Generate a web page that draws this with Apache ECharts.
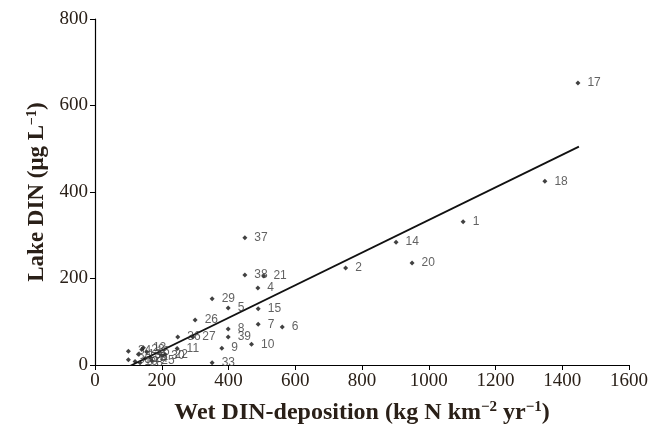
<!DOCTYPE html>
<html><head><meta charset="utf-8">
<script src="https://cdn.jsdelivr.net/npm/echarts@6/dist/echarts.min.js"></script>
<style>html,body{margin:0;padding:0;background:#fff}#c{width:653px;height:436px}</style>
</head><body><div id="c"></div>
<script>
// Site labels, wet DIN deposition (x) and lake DIN (y)
var siteLabels = ['1','2','3','4','5','6','7','8','9','10','11','12','13','14','15','16','17','18','19','20','21','22','23','24','25','26','27','28','29','30','33','34','35','36','37','38','39'];
var depositionX = [1103,751,165,488,399,561,489,399,380,469,246,145,130,902,489,155,1447,1348,120,950,506,210,140,150,170,300,293,135,351,200,351,100,100,248,449,449,399];
var lakeDinY    = [331,224,18,178,132,88,94,83,39,48,38,40,25,284,130,30,652,425,8,236,206,24,36,15,10,104,65,5,153,22,5,32,12,65,294,208,65];
// regression line endpoints
var fitX = [100, 1450];
var fitY = [-4, 505];
var xTicks = [0,200,400,600,800,1000,1200,1400,1600];
var yTicks = [0,200,400,600,800];

var pts = depositionX.map(function(x,i){return {value:[x,lakeDinY[i]], name:siteLabels[i]};});
var fit = fitX.map(function(x,i){return [x,fitY[i]];});

var chart = echarts.init(document.getElementById('c'));
var serif = 'Liberation Serif';
var ink = '#2a2018';
function richName(sz){
  return {rich:{
    t:{fontFamily:serif,fontSize:sz,fontWeight:'bold',color:ink},
    s:{fontFamily:serif,fontSize:Math.round(sz*0.62),fontWeight:'bold',color:ink,padding:[0,0,Math.round(sz*0.45),0]}}};
}
chart.setOption({
  animation:false,
  grid:{left:95,right:24,top:19,bottom:71},
  xAxis:{type:'value',min:xTicks[0],max:xTicks[xTicks.length-1],interval:xTicks[1]-xTicks[0],
    axisLine:{show:true,onZero:false,lineStyle:{color:'#000',width:1.2}},
    axisTick:{show:true,length:5,lineStyle:{color:'#000'}},
    splitLine:{show:false},
    axisLabel:{fontFamily:serif,fontSize:19,color:ink,margin:7,formatter:function(v){return String(v);}},
    name:'{t|Wet DIN-deposition (kg N km}{s|−2}{t| yr}{s|−1}{t|)}',
    nameLocation:'middle',nameGap:35,
    nameTextStyle:richName(24)
  },
  yAxis:{type:'value',min:yTicks[0],max:yTicks[yTicks.length-1],interval:yTicks[1]-yTicks[0],
    axisLine:{show:true,onZero:false,lineStyle:{color:'#000',width:1.2}},
    axisTick:{show:true,length:5,lineStyle:{color:'#000'}},
    splitLine:{show:false},
    axisLabel:{fontFamily:serif,fontSize:19,color:ink,margin:7,formatter:function(v){return String(v);}},
    name:'{t|Lake DIN (μg L}{s|−1}{t|)}',
    nameLocation:'middle',nameGap:44,
    nameTextStyle:richName(23)
  },
  series:[
    {type:'line',data:fit,symbol:'none',lineStyle:{color:'#111',width:1.8},silent:true,z:2},
    {type:'scatter',data:pts,symbol:'diamond',symbolSize:5,itemStyle:{color:'#111'},z:3,
      label:{show:true,position:'right',distance:7,formatter:'{b}',fontFamily:'Liberation Sans',fontSize:12,color:'#3a3a3a'}}
  ]
});
</script></body></html>
